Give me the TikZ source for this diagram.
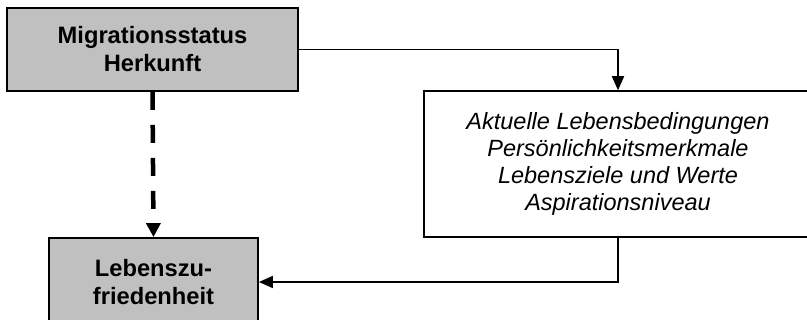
\documentclass[tikz,border=0pt]{standalone}
\usepackage{fontspec}
\setmainfont{Liberation Sans}
\usetikzlibrary{arrows.meta}
\definecolor{boxgray}{HTML}{C0C0C0}
\begin{document}
\begin{tikzpicture}[x=1pt,y=-1pt,
  graybox/.style={draw=black,line width=1.8pt,fill=boxgray,font=\fontsize{23.7}{28}\selectfont\bfseries,align=center},
  whitebox/.style={draw=black,line width=1.5pt,fill=white,font=\fontsize{23.5}{27}\selectfont\itshape,align=center},
  conn/.style={line width=1.7pt,-{Triangle[width=12pt,length=14pt]}},
  dashconn/.style={line width=4.5pt,dash pattern=on 18pt off 15pt,-{Triangle[width=14pt,length=14pt]}}]
\useasboundingbox[fill=white] (0,0) rectangle (807,320);
\node[graybox,minimum width=291pt,minimum height=83pt] (mig) at (152.5,49.5) {Migrationsstatus\\Herkunft};
\node[whitebox,minimum width=388pt,minimum height=146pt] (akt) at (618,164) {Aktuelle Lebensbedingungen\\Persönlichkeitsmerkmale\\Lebensziele und Werte\\Aspirationsniveau};
\node[graybox,minimum width=209pt,minimum height=88pt] (leb) at (153.5,282) {Lebenszu-\\friedenheit};
\draw[conn] (mig.east) -| (akt.north);
\draw[conn] (akt.south) |- (leb.east);
\draw[dashconn] (mig.south) -- (leb.north);
\end{tikzpicture}
\end{document}
